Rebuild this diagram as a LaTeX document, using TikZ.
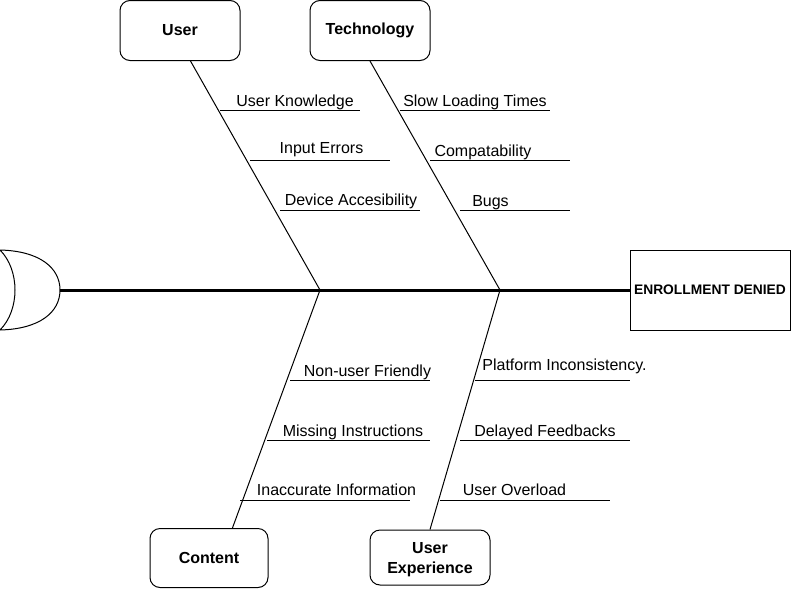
\documentclass[tikz,border=0pt]{standalone}
\usepackage{fontspec}
\setmainfont{Liberation Sans}
\usetikzlibrary{calc}
\begin{document}
\begin{tikzpicture}[x=1pt,y=-1pt,line width=1pt,
  catbox/.style={draw,rounded corners=10pt,minimum width=120pt,minimum height=60pt,inner sep=0pt,align=center,font=\fontsize{16}{20}\selectfont\bfseries},
  lbl/.style={anchor=base,inner sep=0pt,font=\fontsize{16}{19}\selectfont},
  bone/.style={line width=1pt},
  uline/.style={line width=1pt}]
\useasboundingbox (0,0) rectangle (791,589);
% category boxes
\node[catbox] (user) at (180,30.5) {User};
\node[catbox] (tech) at (370,30.5) {Technology};
\node[catbox,minimum width=118pt,minimum height=59pt] (content) at (209,558) {Content};
\node[catbox,minimum height=55pt] (ux) at (430,557.5) {};
\node[inner sep=0pt,align=center,font=\fontsize{16}{20}\selectfont\bfseries] (uxtext) at (430,559.5) {User\\Experience};
% effect box
\node[draw,minimum width=160pt,minimum height=80pt,inner sep=0pt,font=\fontsize{13.8}{16}\selectfont\bfseries] (ed) at (710,290) {ENROLLMENT DENIED};
% head shape
\coordinate (gate) at (60,290);
\draw (0,250) .. controls (40,251) and (60,268) .. (gate) .. controls (60,312) and (40,329) .. (0,330) .. controls (20,310) and (20,270) .. (0,250) -- cycle;
% spine
\draw[line width=3pt] (gate) -- (ed.west);
% junctions
\coordinate (j1) at (320,290);
\coordinate (j2) at (500,290);
\draw[bone] (user.-71.6) -- (j1);
\draw[bone] (tech.south) -- (j2);
\draw[bone] (content.52) -- (j1);
\draw[bone] (ux.north) -- (j2);
% causes - User
\node[lbl] (c1) at (295,106) {User Knowledge};
\draw[uline] (220,110) -- (360,110);
\node[lbl] (c2) at (321.5,153) {Input Errors};
\draw[uline] (250,160) -- (390,160);
\node[lbl] (c3) at (351,205) {Device Accesibility};
\draw[uline] (280,210) -- (420,210);
% causes - Technology
\node[lbl] (c4) at (475,106) {Slow Loading Times};
\draw[uline] (400,110) -- (550,110);
\node[lbl] (c5) at (483,156) {Compatability};
\draw[uline] (430,160) -- (570,160);
\node[lbl] (c6) at (490.5,206) {Bugs};
\draw[uline] (460,210) -- (570,210);
% causes - Content
\node[lbl] (c7) at (367.5,376.5) {Non-user Friendly};
\draw[uline] (290,380) -- (430,380);
\node[lbl] (c8) at (353,436.5) {Missing Instructions};
\draw[uline] (267,440) -- (430,440);
\node[lbl] (c9) at (336.5,495) {Inaccurate Information};
\draw[uline] (240,500) -- (410,500);
% causes - User Experience
\node[lbl] (c10) at (564.5,370) {Platform Inconsistency.};
\draw[uline] (475,380) -- (630,380);
\node[lbl] (c11) at (545,436.5) {Delayed Feedbacks};
\draw[uline] (460,440) -- (630,440);
\node[lbl] (c12) at (514.5,495) {User Overload};
\draw[uline] (440,500) -- (610,500);
\end{tikzpicture}
\end{document}
